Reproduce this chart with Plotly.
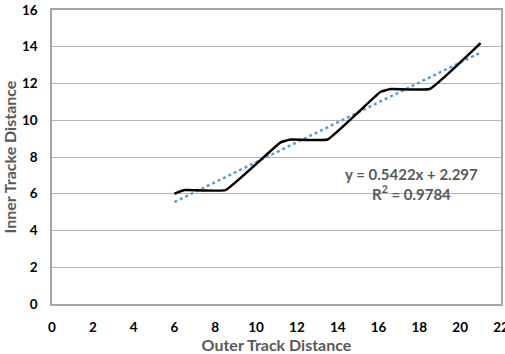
import plotly.graph_objects as go

outer_track = [6.0, 6.5, 8.5, 11.2, 11.7, 13.5, 16.1, 16.6, 18.5, 21.0]
inner_track = [6.0, 6.2, 6.2, 8.8, 8.95, 8.95, 11.55, 11.7, 11.7, 14.2]

trend_slope = 0.5422
trend_intercept = 2.297
trend_r2 = 0.9784
trend_x = [min(outer_track), max(outer_track)]
trend_y = [trend_slope * v + trend_intercept for v in trend_x]

x_ticks = list(range(0, 23, 2))
y_ticks = list(range(0, 17, 2))

font_family = "Lato, 'Open Sans', sans-serif"

fig = go.Figure()
fig.add_trace(go.Scatter(
    x=trend_x, y=trend_y, mode="lines",
    line=dict(color="#5B9BD5", width=2.5, dash="dot"),
    showlegend=False, hoverinfo="skip", cliponaxis=False))
fig.add_trace(go.Scatter(
    x=outer_track, y=inner_track, mode="lines",
    line=dict(color="#000000", width=2.5, shape="spline", smoothing=0.3),
    showlegend=False))

fig.add_annotation(
    x=17.6, y=6.55, xref="x", yref="y",
    text=f"<b>y = {trend_slope}x + {trend_intercept}</b><br><b>R<sup>2</sup> = {trend_r2}</b>",
    showarrow=False, align="center",
    font=dict(family=font_family, size=15, color="#595959"))

fig.update_layout(
    width=505, height=354,
    margin=dict(l=52, r=4, t=10, b=50),
    paper_bgcolor="white", plot_bgcolor="white",
    font=dict(family=font_family),
)
fig.update_xaxes(
    range=[0, 22], tickvals=x_ticks, ticktext=[str(v) for v in x_ticks],
    showgrid=False, zeroline=False, automargin=False,
    showline=True, mirror=True, linecolor="#A6A6A6", linewidth=1.5,
    ticks="", ticklabelstandoff=10, ticklabeloverflow="allow",
    tickfont=dict(family=font_family, size=13.5, color="#000000", weight="bold"),
    title=dict(text="<b>Outer Track Distance</b>", standoff=6,
               font=dict(family=font_family, size=16, color="#595959")),
)
fig.update_yaxes(
    range=[0, 16], tickvals=y_ticks, ticktext=[str(v) for v in y_ticks],
    showgrid=True, gridcolor="#B4B4B4", gridwidth=1, zeroline=False, automargin=False,
    showline=True, mirror=True, linecolor="#A6A6A6", linewidth=1.5,
    ticks="", ticklabelstandoff=10, ticklabeloverflow="allow",
    tickfont=dict(family=font_family, size=13.5, color="#000000", weight="bold"),
    title=dict(text="<b>Inner Tracke Distance</b>", standoff=4,
               font=dict(family=font_family, size=16, color="#595959")),
)

fig.write_html("out.html", config={"displayModeBar": False},
               post_script="document.body.style.margin='0';document.body.style.overflow='hidden';")
